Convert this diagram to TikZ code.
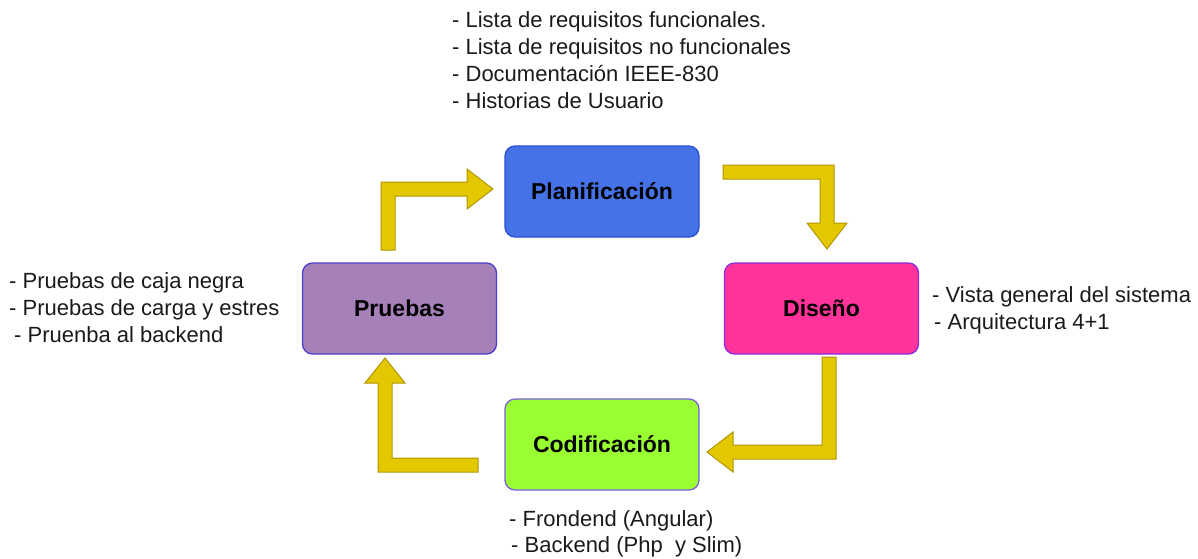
\documentclass[tikz,border=0pt]{standalone}
\usepackage{fontspec}
\setmainfont{Liberation Sans}
\definecolor{arrfill}{HTML}{E3C800}
\definecolor{arrline}{HTML}{B09500}
\definecolor{planfill}{HTML}{4672E8}
\definecolor{planline}{HTML}{2A4FD0}
\definecolor{disfill}{HTML}{FF3399}
\definecolor{disline}{HTML}{8A2BE2}
\definecolor{prufill}{HTML}{A680B8}
\definecolor{pruline}{HTML}{4A40CC}
\definecolor{codfill}{HTML}{99FF33}
\definecolor{codline}{HTML}{7B5FE0}
\definecolor{txt}{HTML}{1A1A1A}
\begin{document}
\begin{tikzpicture}[x=1pt,y=-1pt,
  phase/.style={draw, line width=1.3pt, rounded corners=10pt, minimum width=194pt, minimum height=91pt, inner sep=0pt,
     font=\fontsize{23}{27}\selectfont\bfseries, text=black},
  note/.style={anchor=base west, inner sep=0pt, font=\fontsize{22}{26}\selectfont, text=txt},
  blockarrow/.style={fill=arrfill, draw=arrline, line width=1pt, line join=miter}]
\useasboundingbox (0,0) rectangle (1198,558);

\node[phase, fill=planfill, draw=planline] (plan) at (602,191.5) {Planificación};
\node[phase, fill=disfill, draw=disline] (dis) at (821.5,308.5) {Diseño};
\node[phase, fill=prufill, draw=pruline] (pru) at (399.5,308.5) {Pruebas};
\node[phase, fill=codfill, draw=codline] (cod) at (602,444.5) {Codificación};

% Pruebas -> Planificacion
\draw[blockarrow] (381,250) -- (381,182) -- (467,182) -- (467,169) -- (493,189) -- (467,209) -- (467,196) -- (395,196) -- (395,250) -- cycle;
% Planificacion -> Diseno
\draw[blockarrow] (723,165) -- (834,165) -- (834,223) -- (847,223) -- (827,249) -- (807,223) -- (820,223) -- (820,179) -- (723,179) -- cycle;
% Diseno -> Codificacion
\draw[blockarrow] (822,357) -- (836,357) -- (836,459) -- (733,459) -- (733,472) -- (707,452) -- (733,432) -- (733,445) -- (822,445) -- cycle;
% Codificacion -> Pruebas
\draw[blockarrow] (478,458) -- (392,458) -- (392,383) -- (405,383) -- (385,358) -- (365,383) -- (378,383) -- (378,472) -- (478,472) -- cycle;

\node[note] (p1) at (452,27) {- Lista de requisitos funcionales.};
\node[note] (p2) at (452,54) {- Lista de requisitos no funcionales};
\node[note] (p3) at (452,81) {- Documentación IEEE-830};
\node[note] (p4) at (452,108) {- Historias de Usuario};

\node[note] (d1) at (932,302) {- Vista general del sistema};
\node[note] (d2) at (934,329) {- Arquitectura 4+1};

\node[note] (r1) at (9,288) {- Pruebas de caja negra};
\node[note] (r2) at (9,315) {- Pruebas de carga y estres};
\node[note] (r3) at (14,342) {- Pruenba al backend};

\node[note] (c1) at (509,526) {- Frondend (Angular)};
\node[note] (c2) at (511,552) {- Backend (Php\ \ y Slim)};
\end{tikzpicture}
\end{document}
